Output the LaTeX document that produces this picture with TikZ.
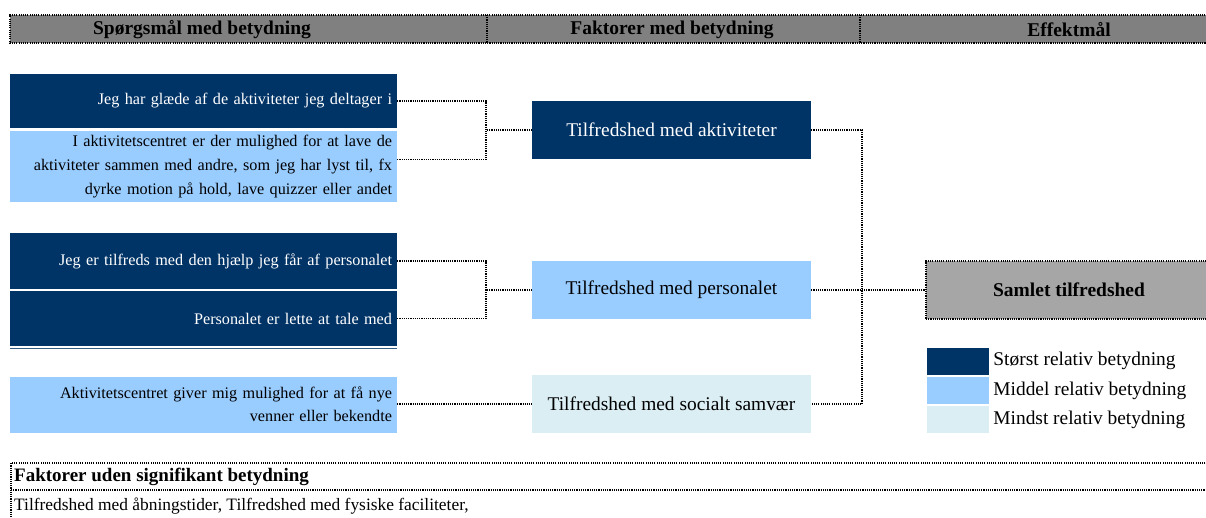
\documentclass[tikz,border=0pt]{standalone}
\usepackage{fontspec}
\setmainfont{Liberation Serif}
\usepackage{xcolor}
\definecolor{navy}{HTML}{003366}
\definecolor{midblue}{HTML}{99CCFF}
\definecolor{paleblue}{HTML}{DAEEF3}
\definecolor{hdrgray}{HTML}{808080}
\definecolor{sumgray}{HTML}{A6A6A6}
\usepackage{tikz}
\usetikzlibrary{positioning,calc}
\newcommand{\qfont}{\fontsize{16.2}{24}\selectfont}
\newcommand{\ffont}{\fontsize{19.4}{23}\selectfont}
\tikzset{
  link/.style={draw=black,line width=1.1pt,dash pattern=on 1.1pt off 1.1pt},
  hdr/.style={font=\fontsize{19.5}{23}\selectfont\bfseries,inner sep=0pt},
  qbox/.style={rectangle,text width=377pt,inner xsep=5pt,inner ysep=0pt,align=right,font=\qfont},
  qdark/.style={qbox,fill=navy,text=white},
  qmid/.style={qbox,fill=midblue,text=black},
  fac/.style={rectangle,minimum width=279pt,minimum height=58pt,inner sep=0pt,font=\ffont},
  facdark/.style={fac,fill=navy,text=white},
  facmid/.style={fac,fill=midblue,text=black},
  facpale/.style={fac,fill=paleblue,text=black},
  sumbox/.style={rectangle,fill=sumgray,link,minimum width=286pt,minimum height=58pt,
    font=\fontsize{19.5}{23}\selectfont\bfseries},
  legbox/.style={rectangle,minimum width=62pt,minimum height=27pt,inner sep=0pt},
  legtxt/.style={font=\ffont,inner sep=0pt},
}
\begin{document}
\begin{tikzpicture}[x=1pt,y=-1pt]
  \useasboundingbox (0,0) rectangle (1206,517);
  % header band
  \fill[hdrgray] (10,15) rectangle (1212,43);
  \draw[link] (1212,15) -- (10,15) -- (10,43) -- (1212,43);
  \draw[link] (487,15) -- (487,43) (860,15) -- (860,43);
  \node[hdr] (h1) at (202,30) {Spørgsmål med betydning};
  \node[hdr] (h2) at (672,30) {Faktorer med betydning};
  \node[hdr] (h3) at (1069,30) {Effektmål};
  % questions
  \node[qdark,minimum height=54pt] (q1) at (203.5,101) {Jeg har glæde af de aktiviteter jeg deltager i};
  \node[qmid,minimum height=71pt] (q2) at (203.5,166.5) {I aktivitetscentret er der mulighed for at lave de\\aktiviteter sammen med andre, som jeg har lyst til, fx\\dyrke motion på hold, lave quizzer eller andet};
  \node[qdark,minimum height=56pt] (q3) at (203.5,261) {Jeg er tilfreds med den hjælp jeg får af personalet};
  \node[qdark,minimum height=55pt] (q4) at (203.5,318.5) {Personalet er lette at tale med};
  \draw[navy!80!white,line width=1pt] ([yshift=-2pt]q4.south west) -- ([yshift=-2pt]q4.south east);
  \node[qmid,minimum height=56pt,font=\fontsize{16.2}{23}\selectfont] (q5) at (203.5,404.5) {Aktivitetscentret giver mig mulighed for at få nye\\venner eller bekendte};
  % factors
  \node[facdark] (f1) at (671.5,130) {Tilfredshed med aktiviteter};
  \node[facmid] (f2) at (671.5,290) {Tilfredshed med personalet};
  \node[facpale] (f3) at (671.5,404) {Tilfredshed med socialt samvær};
  % outcome
  \node[sumbox] (sum) at (1069,290) {Samlet tilfredshed};
  % connectors
  \coordinate (j1) at (486,130);
  \coordinate (j2) at (486,290);
  \coordinate (j3) at (862,290);
  \draw[link] (q1.east) -| (j1) -- (f1.west);
  \draw[link] ([yshift=7pt]q2.east) -| (j1);
  \draw[link] (q3.east) -| (j2) -- (f2.west);
  \draw[link] (q4.east) -| (j2);
  \draw[link] (f3.west -| q5.east) -- (f3.west);
  \draw[link] (f1.east) -| (j3) |- (f3.east);
  \draw[link] (f2.east) -- (sum.west);
  % legend
  \foreach \c/\y/\t in {navy/361/Størst relativ betydning,
                        midblue/390.5/Middel relativ betydning,
                        paleblue/419.5/Mindst relativ betydning}{
    \node[legbox,fill=\c] (l\c) at (958,\y) {};
    \node[legtxt,right=4pt of l\c] (t\c) {\t};
  }
  % factors without significance
  \draw[link] (1212,463) -- (11,463) -- (11,520);
  \draw[link] (11,490) -- (1212,490);
  \node[anchor=west,inner sep=0pt,font=\fontsize{19}{22}\selectfont\bfseries] (nb1) at (14,477) {Faktorer uden signifikant betydning};
  \node[anchor=west,inner sep=0pt,font=\fontsize{17.4}{21}\selectfont] (nb2) at (14,506) {Tilfredshed med åbningstider, Tilfredshed med fysiske faciliteter,};
\end{tikzpicture}
\end{document}
